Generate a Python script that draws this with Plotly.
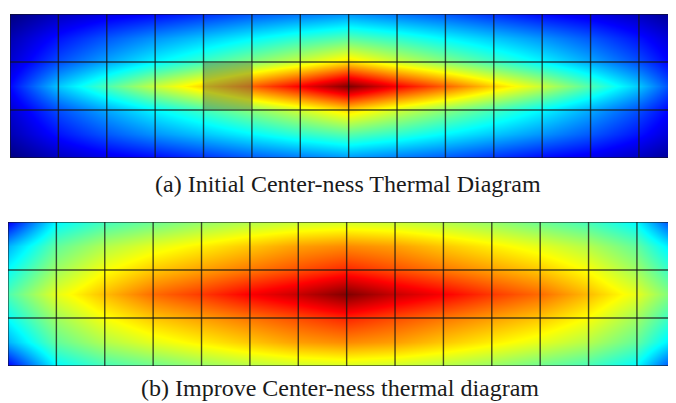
import plotly.graph_objects as go

# sample positions (column / row units) of the read-off values
col_pos = list(range(15))
row_pos = [0, 0.5, 1.0, 1.5, 2.0, 2.5, 3.0]

# (a) Initial center-ness map, values read at the sample positions
a_r0 = [0.00, 0.06, 0.10, 0.13, 0.17, 0.21, 0.24, 0.27, 0.24, 0.21, 0.17, 0.13, 0.10, 0.06, 0.00]
a_r1 = [0.05, 0.14, 0.21, 0.27, 0.32, 0.37, 0.42, 0.46, 0.42, 0.37, 0.32, 0.27, 0.21, 0.14, 0.05]
a_r2 = [0.08, 0.20, 0.29, 0.37, 0.44, 0.51, 0.58, 0.66, 0.58, 0.51, 0.44, 0.37, 0.29, 0.20, 0.08]
a_r3 = [0.13, 0.32, 0.45, 0.57, 0.67, 0.78, 0.88, 1.00, 0.88, 0.78, 0.67, 0.57, 0.45, 0.32, 0.13]
a_r4 = [0.08, 0.20, 0.29, 0.37, 0.44, 0.51, 0.58, 0.66, 0.58, 0.51, 0.44, 0.37, 0.29, 0.20, 0.08]
a_r5 = [0.05, 0.14, 0.21, 0.27, 0.32, 0.37, 0.42, 0.46, 0.42, 0.37, 0.32, 0.27, 0.21, 0.14, 0.05]
a_r6 = [0.00, 0.06, 0.10, 0.13, 0.17, 0.21, 0.24, 0.27, 0.24, 0.21, 0.17, 0.13, 0.10, 0.06, 0.00]

# (b) Improved center-ness map
b_r0 = [0.12, 0.37, 0.44, 0.48, 0.52, 0.55, 0.57, 0.58, 0.57, 0.55, 0.52, 0.48, 0.44, 0.37, 0.12]
b_r1 = [0.30, 0.47, 0.55, 0.60, 0.64, 0.68, 0.72, 0.74, 0.72, 0.68, 0.64, 0.60, 0.55, 0.47, 0.30]
b_r2 = [0.38, 0.53, 0.62, 0.68, 0.72, 0.76, 0.80, 0.84, 0.80, 0.76, 0.72, 0.68, 0.62, 0.53, 0.38]
b_r3 = [0.45, 0.60, 0.69, 0.77, 0.82, 0.88, 0.93, 1.00, 0.93, 0.88, 0.82, 0.77, 0.69, 0.60, 0.45]
b_r4 = [0.38, 0.53, 0.62, 0.68, 0.72, 0.76, 0.80, 0.84, 0.80, 0.76, 0.72, 0.68, 0.62, 0.53, 0.38]
b_r5 = [0.30, 0.47, 0.55, 0.60, 0.64, 0.68, 0.72, 0.74, 0.72, 0.68, 0.64, 0.60, 0.55, 0.47, 0.30]
b_r6 = [0.12, 0.37, 0.44, 0.48, 0.52, 0.55, 0.57, 0.58, 0.57, 0.55, 0.52, 0.48, 0.44, 0.37, 0.12]

grid_cols = list(range(15))
grid_rows = [0, 1, 2, 3]
highlight_cell = (4, 1)  # column, row of the shaded cell in (a)

caption_a = "(a) Initial Center-ness Thermal Diagram"
caption_b = "(b) Improve Center-ness thermal diagram"

jet = [[0.0, "rgb(0,0,128)"], [0.125, "rgb(0,0,255)"], [0.375, "rgb(0,255,255)"],
       [0.625, "rgb(255,255,0)"], [0.875, "rgb(255,0,0)"], [1.0, "rgb(128,0,0)"]]

za = [a_r0, a_r1, a_r2, a_r3, a_r4, a_r5, a_r6]
zb = [b_r0, b_r1, b_r2, b_r3, b_r4, b_r5, b_r6]

fig = go.Figure()
fig.add_trace(go.Heatmap(x=col_pos, y=row_pos, z=za, colorscale=jet, zmin=0, zmax=1,
                         zsmooth="best", showscale=False, xaxis="x", yaxis="y", hoverinfo="skip"))
fig.add_trace(go.Heatmap(x=col_pos, y=row_pos, z=zb, colorscale=jet, zmin=0, zmax=1,
                         zsmooth="best", showscale=False, xaxis="x2", yaxis="y2", hoverinfo="skip"))

# page body has an 8px margin: figure covers the window from (8, 8)
OFF = 8
W, H = 676 - OFF, 403 - OFF
line_style = dict(color="rgba(20,20,20,0.75)", width=1.4)
shapes = []
for xr, yr in (("x", "y"), ("x2", "y2")):
    for c in grid_cols:
        shapes.append(dict(type="line", xref=xr, yref=yr, x0=c, x1=c, y0=grid_rows[0], y1=grid_rows[-1], line=line_style))
    for r in grid_rows:
        shapes.append(dict(type="line", xref=xr, yref=yr, x0=grid_cols[0], x1=grid_cols[-1], y0=r, y1=r, line=line_style))
hc, hr = highlight_cell
shapes.append(dict(type="rect", xref="x", yref="y", x0=hc, x1=hc + 1, y0=hr, y1=hr + 1,
                   fillcolor="rgba(95,115,75,0.45)", line=dict(width=0)))

col_px = 48.38


def px_x(p):
    return (p - OFF) / W


def px_y(p):
    return 1 - (p - OFF) / H


axis_common = dict(showgrid=False, zeroline=False, showticklabels=False, ticks="", showline=False)
fig.update_layout(
    width=W, height=H, margin=dict(l=0, r=0, t=0, b=0),
    paper_bgcolor="white", plot_bgcolor="white", showlegend=False,
    xaxis=dict(domain=[px_x(10), 1], range=[0, (676 - 10) / col_px], anchor="y", **axis_common),
    yaxis=dict(domain=[px_y(158), px_y(14)], range=[3, 0], anchor="x", **axis_common),
    xaxis2=dict(domain=[px_x(8), 1], range=[0, (676 - 8) / col_px], anchor="y2", **axis_common),
    yaxis2=dict(domain=[px_y(366), px_y(222)], range=[3, 0], anchor="x2", **axis_common),
    shapes=shapes,
    annotations=[
        dict(text=caption_a, xref="paper", yref="paper", x=px_x(348), y=px_y(184), showarrow=False,
             xanchor="center", yanchor="middle", font=dict(family="Liberation Serif", size=24, color="#1a1a1a")),
        dict(text=caption_b, xref="paper", yref="paper", x=px_x(340), y=px_y(388), showarrow=False,
             xanchor="center", yanchor="middle", font=dict(family="Liberation Serif", size=24, color="#1a1a1a")),
    ],
)
fig.write_html("out.html")
